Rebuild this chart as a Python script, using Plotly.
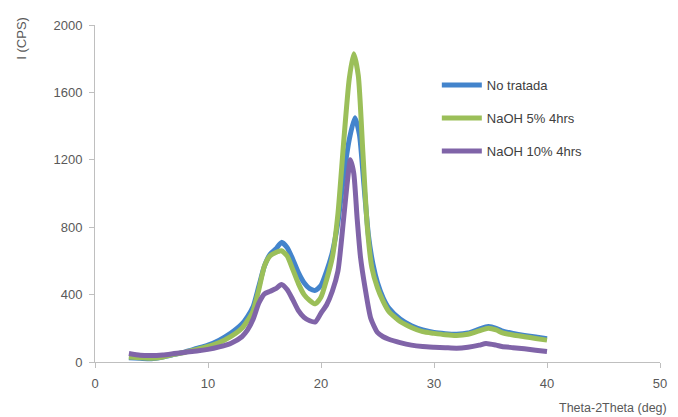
import plotly.graph_objects as go

# Theta-2Theta (deg) sample positions and intensities (CPS)
x_blue = [3, 4, 5, 6, 7, 8, 9, 10, 11, 12, 13, 13.5, 14, 14.5, 15, 15.5, 16, 16.5, 17, 17.5, 18, 18.5, 19, 19.5, 20, 20.5,
          21, 21.5, 22, 22.5, 23, 23.4, 23.8, 24.2, 24.6, 25, 25.5, 26, 27, 28, 29, 30, 31, 32, 33, 34, 34.8, 35.5, 36, 37, 38, 39, 40]
y_blue = [25, 22, 20, 30, 45, 60, 80, 100, 130, 170, 225, 270, 330, 450, 570, 640, 670, 710, 680, 610, 530, 470, 435, 425, 455, 540,
          650, 830, 1100, 1320, 1450, 1350, 1050, 750, 580, 470, 380, 320, 255, 215, 190, 175, 168, 165, 172, 195, 210, 200, 185, 170, 158, 148, 138]

x_green = [3, 4, 5, 6, 7, 8, 9, 10, 11, 12, 13, 13.5, 14, 14.5, 15, 15.5, 16, 16.5, 17, 17.5, 18, 18.5, 19, 19.5, 20, 20.5,
           21, 21.5, 22, 22.5, 22.9, 23.3, 23.7, 24.1, 24.5, 25, 25.5, 26, 27, 28, 29, 30, 31, 32, 33, 34, 34.8, 35.5, 36, 37, 38, 39, 40]
y_green = [30, 25, 22, 30, 45, 58, 75, 92, 115, 150, 200, 245, 305, 430, 570, 630, 650, 660, 630, 550, 465, 400, 365, 345, 385, 490,
           620, 880, 1300, 1680, 1830, 1700, 1250, 800, 560, 440, 360, 300, 240, 205, 180, 170, 162, 158, 165, 185, 200, 190, 175, 160, 150, 140, 130]

x_purple = [3, 4, 5, 6, 7, 8, 9, 10, 11, 12, 13, 13.5, 14, 14.5, 15, 15.5, 16, 16.5, 17, 17.5, 18, 18.5, 19, 19.5, 20, 20.5,
            21, 21.5, 22, 22.3, 22.6, 22.9, 23.2, 23.5, 23.9, 24.4, 25, 25.5, 26, 27, 28, 29, 30, 31, 32, 33, 34, 34.6, 35.5, 36, 37, 38, 39, 40]
y_purple = [50, 40, 38, 42, 50, 58, 65, 75, 90, 110, 150, 190, 255, 350, 405, 420, 435, 460, 430, 370, 305, 265, 245, 238, 290, 340,
            420, 540, 850, 1050, 1200, 1120, 850, 620, 440, 260, 175, 150, 135, 115, 100, 92, 88, 85, 82, 88, 100, 110, 100, 92, 85, 78, 70, 62]

names = ["No tratada", "NaOH 5% 4hrs", "NaOH 10% 4hrs"]
colors = ["#4384cc", "#9bbf59", "#8064a8"]

FONT = "Liberation Sans, Arial, sans-serif"

fig = go.Figure()
for i, (xs, ys) in enumerate([(x_blue, y_blue), (x_green, y_green), (x_purple, y_purple)]):
    fig.add_trace(go.Scatter(x=xs, y=ys, mode="lines", name=names[i], legendgroup=str(i),
                             line=dict(color=colors[i], width=5, shape="spline", smoothing=0.6)))

axis_common = dict(showgrid=False, zeroline=False, showline=True, linecolor="#bfbfbf", linewidth=1,
                   ticks="outside", ticklen=5, tickcolor="#bfbfbf",
                   tickfont=dict(family=FONT, size=13, color="#595959"))

fig.update_layout(
    width=678, height=417,
    margin=dict(l=95, r=11, t=25, b=55),
    paper_bgcolor="white", plot_bgcolor="white",
    xaxis=dict(range=[0, 50], dtick=10, ticklabelstandoff=4, **axis_common),
    yaxis=dict(range=[0, 2000], dtick=400, ticklabelstandoff=4, **axis_common),
    legend=dict(x=0.605, y=0.866, xanchor="left", yanchor="top", bgcolor="rgba(0,0,0,0)",
                font=dict(family=FONT, size=13, color="#404040"), tracegroupgap=13,
                traceorder="grouped", itemwidth=40),
    annotations=[
        dict(text="I (CPS)", textangle=-90, xref="paper", yref="paper", x=-0.13, y=0.961,
             xanchor="center", yanchor="middle", showarrow=False,
             font=dict(family=FONT, size=13, color="#595959")),
        dict(text="Theta-2Theta (deg)", xref="paper", yref="paper", x=1.0157, y=-0.1365,
             xanchor="right", yanchor="middle", showarrow=False,
             font=dict(family=FONT, size=12.5, color="#595959")),
    ],
)

fig.write_html("out.html", config={"displayModeBar": False},
               post_script="document.body.style.margin='0';")
